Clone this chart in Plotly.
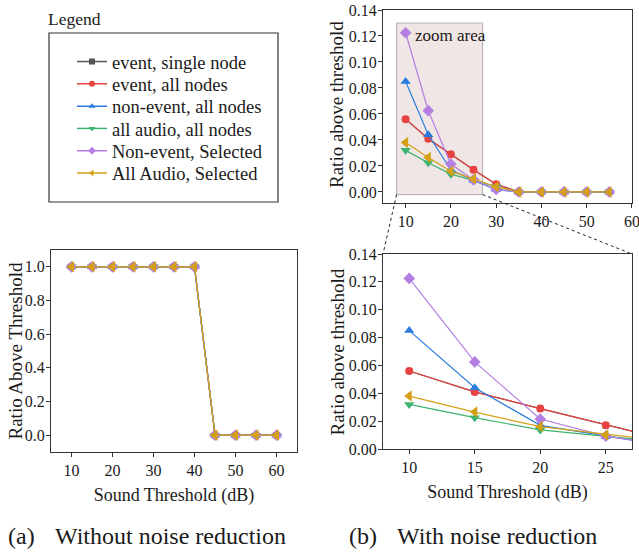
import plotly.graph_objects as go

W, H = 639, 552

# ---------------- data ----------------
series_names = ["event, single node", "event, all nodes", "non-event, all nodes",
                "all audio, all nodes", "Non-event, Selected", "All Audio, Selected"]
colors = ["#555555", "#e84343", "#2a7ddf", "#3cb371", "#b47fe3", "#d4a016"]
symbols = ["square", "circle", "triangle-up", "triangle-down", "diamond", "triangle-left"]

# (a) without noise reduction
thr_a = [10, 15, 20, 25, 30, 35, 40, 45, 50, 55, 60]
ratio_a = [1, 1, 1, 1, 1, 1, 1, 0, 0, 0, 0]

# (b) with noise reduction
thr_b = [10, 15, 20, 25, 30, 35, 40, 45, 50, 55]
event_single = [0.056, 0.041, 0.029, 0.017, 0.006, 0, 0, 0, 0, 0]
event_all = [0.056, 0.041, 0.029, 0.017, 0.006, 0, 0, 0, 0, 0]
nonevent_all = [0.085, 0.044, 0.017, 0.0088, 0.0018, 0, 0, 0, 0, 0]
audio_all = [0.032, 0.0225, 0.0137, 0.009, 0.004, 0, 0, 0, 0, 0]
nonevent_sel = [0.1225, 0.0625, 0.0215, 0.0093, 0.002, 0, 0, 0, 0, 0]
audio_sel = [0.038, 0.0265, 0.016, 0.0100, 0.004, 0, 0, 0, 0, 0]
series_b = [event_single, event_all, nonevent_all, audio_all, nonevent_sel, audio_sel]

zoom_x = [8, 27]
zoom_y = [-0.002, 0.13]

FONT = "Liberation Serif"
TXT = "#1a1a1a"


def px_x(p):
    return p / W


def px_y(p):
    return 1 - p / H


dom_a = dict(x=[px_x(51), px_x(297)], y=[px_y(452), px_y(250)])
dom_t = dict(x=[px_x(383), px_x(632)], y=[px_y(203), px_y(10)])
dom_z = dict(x=[px_x(383), px_x(632)], y=[px_y(449), px_y(254)])

range_a_x, range_a_y = [5, 65], [-0.1, 1.1]
range_t_x, range_t_y = [5, 60.02], [-0.0085, 0.14]
range_z_x, range_z_y = zoom_x, [0, 0.14]

fig = go.Figure()

# legend-only entries, one legend per entry so spacing matches the reference
legend_rows_px = [62, 84.3, 106.6, 128.9, 151.2, 173.5]
for k, (name, c, s) in enumerate(zip(series_names, colors, symbols)):
    lg = "legend" if k == 0 else "legend%d" % (k + 1)
    fig.add_trace(go.Scatter(x=[None], y=[None], mode="lines+markers", name=name,
                             line=dict(color=c, width=1.5),
                             marker=dict(symbol=s, size=6, color=c),
                             showlegend=True, legend=lg, xaxis="x", yaxis="y"))

msize = [6, 8, 9, 9, 9, 10]
for i, (name, c, s) in enumerate(zip(series_names, colors, symbols)):
    fig.add_trace(go.Scatter(x=thr_a, y=ratio_a, mode="lines+markers", name=name,
                             line=dict(color=c, width=1.2),
                             marker=dict(symbol=s, size=msize[i], color=c),
                             showlegend=False, xaxis="x", yaxis="y"))
for ax in [("x2", "y2"), ("x3", "y3")]:
    for i, (name, c, s) in enumerate(zip(series_names, colors, symbols)):
        fig.add_trace(go.Scatter(x=thr_b, y=series_b[i], mode="lines+markers", name=name,
                                 line=dict(color=c, width=1.2),
                                 marker=dict(symbol=s, size=msize[i], color=c),
                                 showlegend=False, xaxis=ax[0], yaxis=ax[1]))

axis_common = dict(showline=True, mirror=True, linecolor="#333333", linewidth=1.2,
                   ticks="outside", ticklen=4, tickcolor="#333333", showgrid=False,
                   zeroline=False, tickfont=dict(family=FONT, size=16, color=TXT),
                   ticklabeloverflow="allow", automargin=False)
yaxis_extra = dict(ticklabelstandoff=-2)
xt_font = dict(family=FONT, size=18, color=TXT)
yt_font = dict(family=FONT, size=19, color=TXT)

fig.update_layout(
    width=W, height=H, margin=dict(l=0, r=0, t=0, b=0, autoexpand=False),
    plot_bgcolor="white", paper_bgcolor="white",
    font=dict(family=FONT, size=16, color=TXT),
    xaxis=dict(domain=dom_a["x"], anchor="y", range=range_a_x, tickvals=[10, 20, 30, 40, 50, 60],
               title=dict(text="Sound Threshold (dB)", standoff=10, font=xt_font), **axis_common),
    yaxis=dict(domain=dom_a["y"], anchor="x", range=range_a_y, tickvals=[0, 0.2, 0.4, 0.6, 0.8, 1.0],
               tickformat=".1f", **axis_common, **yaxis_extra),
    xaxis2=dict(domain=dom_t["x"], anchor="y2", range=range_t_x, tickvals=[10, 20, 30, 40, 50, 60],
                **axis_common),
    yaxis2=dict(domain=dom_t["y"], anchor="x2", range=range_t_y,
                tickvals=[0, 0.02, 0.04, 0.06, 0.08, 0.10, 0.12, 0.14], tickformat=".2f",
                **axis_common, **yaxis_extra),
    xaxis3=dict(domain=dom_z["x"], anchor="y3", range=range_z_x, tickvals=[10, 15, 20, 25],
                title=dict(text="Sound Threshold (dB)", standoff=10, font=xt_font), **axis_common),
    yaxis3=dict(domain=dom_z["y"], anchor="x3", range=range_z_y,
                tickvals=[0, 0.02, 0.04, 0.06, 0.08, 0.10, 0.12, 0.14], tickformat=".2f",
                **axis_common, **yaxis_extra),
    showlegend=True,
)

for k, ypx in enumerate(legend_rows_px):
    key = "legend" if k == 0 else "legend%d" % (k + 1)
    fig.update_layout({key: dict(x=px_x(72), y=px_y(ypx), xanchor="left", yanchor="middle",
                                 bgcolor="rgba(0,0,0,0)", borderwidth=0,
                                 font=dict(family=FONT, size=18.5, color=TXT))})

shapes = []
# legend box
shapes.append(dict(type="rect", xref="paper", yref="paper", x0=px_x(49), x1=px_x(278),
                   y0=px_y(202), y1=px_y(33), line=dict(color="#333333", width=1.2),
                   fillcolor="rgba(0,0,0,0)", layer="above"))
# zoom area rectangle
shapes.append(dict(type="rect", xref="x2", yref="y2", x0=zoom_x[0], x1=zoom_x[1],
                   y0=zoom_y[0], y1=zoom_y[1], fillcolor="rgba(188,143,143,0.22)",
                   line=dict(color="rgba(128,128,128,0.5)", width=1.2), layer="below"))


def to_paper(v, rng, dom):
    return dom[0] + (v - rng[0]) / (rng[1] - rng[0]) * (dom[1] - dom[0])


# connectors from zoom area to zoomed plot
for zx, zdx in [(zoom_x[0], dom_z["x"][0]), (zoom_x[1], dom_z["x"][1])]:
    shapes.append(dict(type="line", xref="paper", yref="paper",
                       x0=to_paper(zx, range_t_x, dom_t["x"]),
                       y0=to_paper(zoom_y[0], range_t_y, dom_t["y"]),
                       x1=zdx, y1=dom_z["y"][1],
                       line=dict(color="#222222", width=1, dash="dot"), layer="above"))
fig.update_layout(shapes=shapes)

cap_font = dict(family=FONT, size=24, color=TXT)
annotations = [
    dict(text="Legend", xref="paper", yref="paper", x=px_x(46), y=px_y(19.5),
         xanchor="left", yanchor="middle", showarrow=False,
         font=dict(family=FONT, size=17.5, color=TXT)),
    dict(text="zoom area", xref="x2", yref="y2", x=11.6, y=0.1205,
         xanchor="left", yanchor="middle", showarrow=False,
         font=dict(family=FONT, size=17, color=TXT)),
    # y-axis titles
    dict(text="Ratio Above Threshold", xref="paper", yref="paper", x=px_x(14.5),
         y=sum(dom_a["y"]) / 2, textangle=-90, xanchor="center", yanchor="middle",
         showarrow=False, font=yt_font),
    dict(text="Ratio above threshold", xref="paper", yref="paper", x=px_x(336.5),
         y=sum(dom_t["y"]) / 2 + 2 / H, textangle=-90, xanchor="center", yanchor="middle",
         showarrow=False, font=yt_font),
    dict(text="Ratio above threshold", xref="paper", yref="paper", x=px_x(337),
         y=sum(dom_z["y"]) / 2, textangle=-90, xanchor="center", yanchor="middle",
         showarrow=False, font=yt_font),
    # captions
    dict(text="(a)", xref="paper", yref="paper", x=px_x(6), y=px_y(536),
         xanchor="left", yanchor="middle", showarrow=False, font=cap_font),
    dict(text="Without noise reduction", xref="paper", yref="paper", x=px_x(53), y=px_y(536),
         xanchor="left", yanchor="middle", showarrow=False, font=cap_font),
    dict(text="(b)", xref="paper", yref="paper", x=px_x(347), y=px_y(536),
         xanchor="left", yanchor="middle", showarrow=False, font=cap_font),
    dict(text="With noise reduction", xref="paper", yref="paper", x=px_x(395), y=px_y(536),
         xanchor="left", yanchor="middle", showarrow=False, font=cap_font),
]
fig.update_layout(annotations=annotations)

fig.write_html("out.html")
